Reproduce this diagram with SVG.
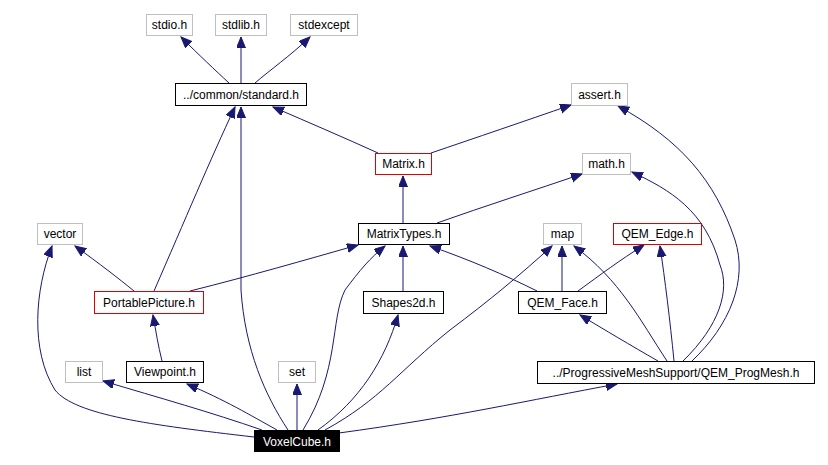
<svg xmlns="http://www.w3.org/2000/svg" width="828" height="465" viewBox="0 0 828 465">
<style>
.n rect{fill:#fff;stroke:#000;stroke-width:1}
.g rect{stroke:#bfbfbf}
.r rect{stroke:#e00000}
.n text{font-family:"Liberation Sans",Arial,sans-serif;font-size:12px;fill:#000;text-anchor:middle}
#edges path{fill:none;stroke:#191970;stroke-width:1;marker-end:url(#a)}
</style>
<defs><marker id="a" markerUnits="userSpaceOnUse" markerWidth="12" markerHeight="10" refX="11" refY="4.5" orient="auto"><path d="M0,0 L11,4.5 L0,9 Z" fill="#191970" stroke="#191970"/></marker></defs>
<rect width="828" height="465" fill="#fff"/>
<g id="edges">
<path d="M229,83 C215,70 200,56 181,37"/>
<path d="M241,83 L241,37"/>
<path d="M255,83 C270,70 290,56 310,37"/>
<path d="M378,153 C345,138 310,123 273,107"/>
<path d="M431,153 C475,138 525,121 571,105"/>
<path d="M403,223 L403,176"/>
<path d="M437,223 C485,206 535,190 582,174"/>
<path d="M134,291 C118,278 100,264 75,246"/>
<path d="M154,291 C185,220 210,160 235,107"/>
<path d="M190,291 C250,276 305,260 358,245"/>
<path d="M403,291 L403,246"/>
<path d="M537,291 C505,275 470,260 430,246"/>
<path d="M562,291 L562,246"/>
<path d="M578,291 C600,275 620,260 644,245"/>
<path d="M162,361 C158,345 156,332 153,315"/>
<path d="M658,361 C630,345 605,330 580,315"/>
<path d="M667,361 C640,320 620,280 574,246"/>
<path d="M674,361 C670,320 665,280 660,246"/>
<path d="M683,361 C720,325 730,290 720,265 C705,210 670,190 632,172"/>
<path d="M692,361 C730,325 748,280 735,240 C715,180 680,140 618,106"/>
<path d="M254,437 C150,425 75,415 55,390 C30,350 35,290 52,246"/>
<path d="M262,430 C210,412 160,398 103,381"/>
<path d="M277,430 C250,415 225,400 187,384"/>
<path d="M288,430 C265,395 245,350 241,290 L241,107"/>
<path d="M297,430 L297,384"/>
<path d="M303,430 C340,370 330,320 345,290 C360,270 370,258 385,246"/>
<path d="M318,430 C360,400 385,360 398,315"/>
<path d="M325,430 C380,400 400,370 450,330 C490,300 520,275 552,246"/>
<path d="M339,433 C450,418 530,400 617,384"/>
</g>
<g id="stdio" class="n g"><rect x="146.5" y="14.5" width="46" height="21"/><text x="169.5" y="29">stdio.h</text></g>
<g id="stdlib" class="n g"><rect x="215.5" y="14.5" width="51" height="21"/><text x="241" y="29">stdlib.h</text></g>
<g id="stdexcept" class="n g"><rect x="290.5" y="14.5" width="67" height="21"/><text x="324" y="29">stdexcept</text></g>
<g id="standard" class="n"><rect x="175.5" y="83.5" width="131" height="22"/><text x="241" y="99">../common/standard.h</text></g>
<g id="assert" class="n g"><rect x="571.5" y="83.5" width="56" height="22"/><text x="599.5" y="99">assert.h</text></g>
<g id="matrix" class="n r"><rect x="375.5" y="153.5" width="56" height="21"/><text x="403.5" y="168">Matrix.h</text></g>
<g id="math" class="n g"><rect x="582.5" y="153.5" width="48" height="21"/><text x="606.5" y="168">math.h</text></g>
<g id="vector" class="n g"><rect x="37.5" y="223.5" width="45" height="21"/><text x="60" y="238">vector</text></g>
<g id="matrixtypes" class="n"><rect x="358.5" y="223.5" width="91" height="21"/><text x="404" y="238">MatrixTypes.h</text></g>
<g id="map" class="n g"><rect x="543.5" y="223.5" width="38" height="21"/><text x="562.5" y="238">map</text></g>
<g id="qemedge" class="n r"><rect x="613.5" y="223.5" width="88" height="21"/><text x="657.5" y="238">QEM_Edge.h</text></g>
<g id="portable" class="n r"><rect x="94.5" y="291.5" width="109" height="22"/><text x="149" y="307">PortablePicture.h</text></g>
<g id="shapes2d" class="n"><rect x="363.5" y="291.5" width="80" height="22"/><text x="403.5" y="307">Shapes2d.h</text></g>
<g id="qemface" class="n"><rect x="518.5" y="291.5" width="88" height="22"/><text x="562.5" y="307">QEM_Face.h</text></g>
<g id="list" class="n g"><rect x="65.5" y="361.5" width="37" height="21"/><text x="84" y="376">list</text></g>
<g id="viewpoint" class="n"><rect x="126.5" y="361.5" width="77" height="21"/><text x="165" y="376">Viewpoint.h</text></g>
<g id="set" class="n g"><rect x="278.5" y="361.5" width="37" height="21"/><text x="297" y="376">set</text></g>
<g id="progmesh" class="n"><rect x="537.5" y="361.5" width="277" height="22"/><text x="676" y="377">../ProgressiveMeshSupport/QEM_ProgMesh.h</text></g>
<g id="voxelcube"><rect x="254" y="430" width="86" height="22" fill="#000"/><text x="297" y="446" font-family="Liberation Sans,Arial,sans-serif" font-size="12" fill="#fff" text-anchor="middle">VoxelCube.h</text></g>
</svg>
